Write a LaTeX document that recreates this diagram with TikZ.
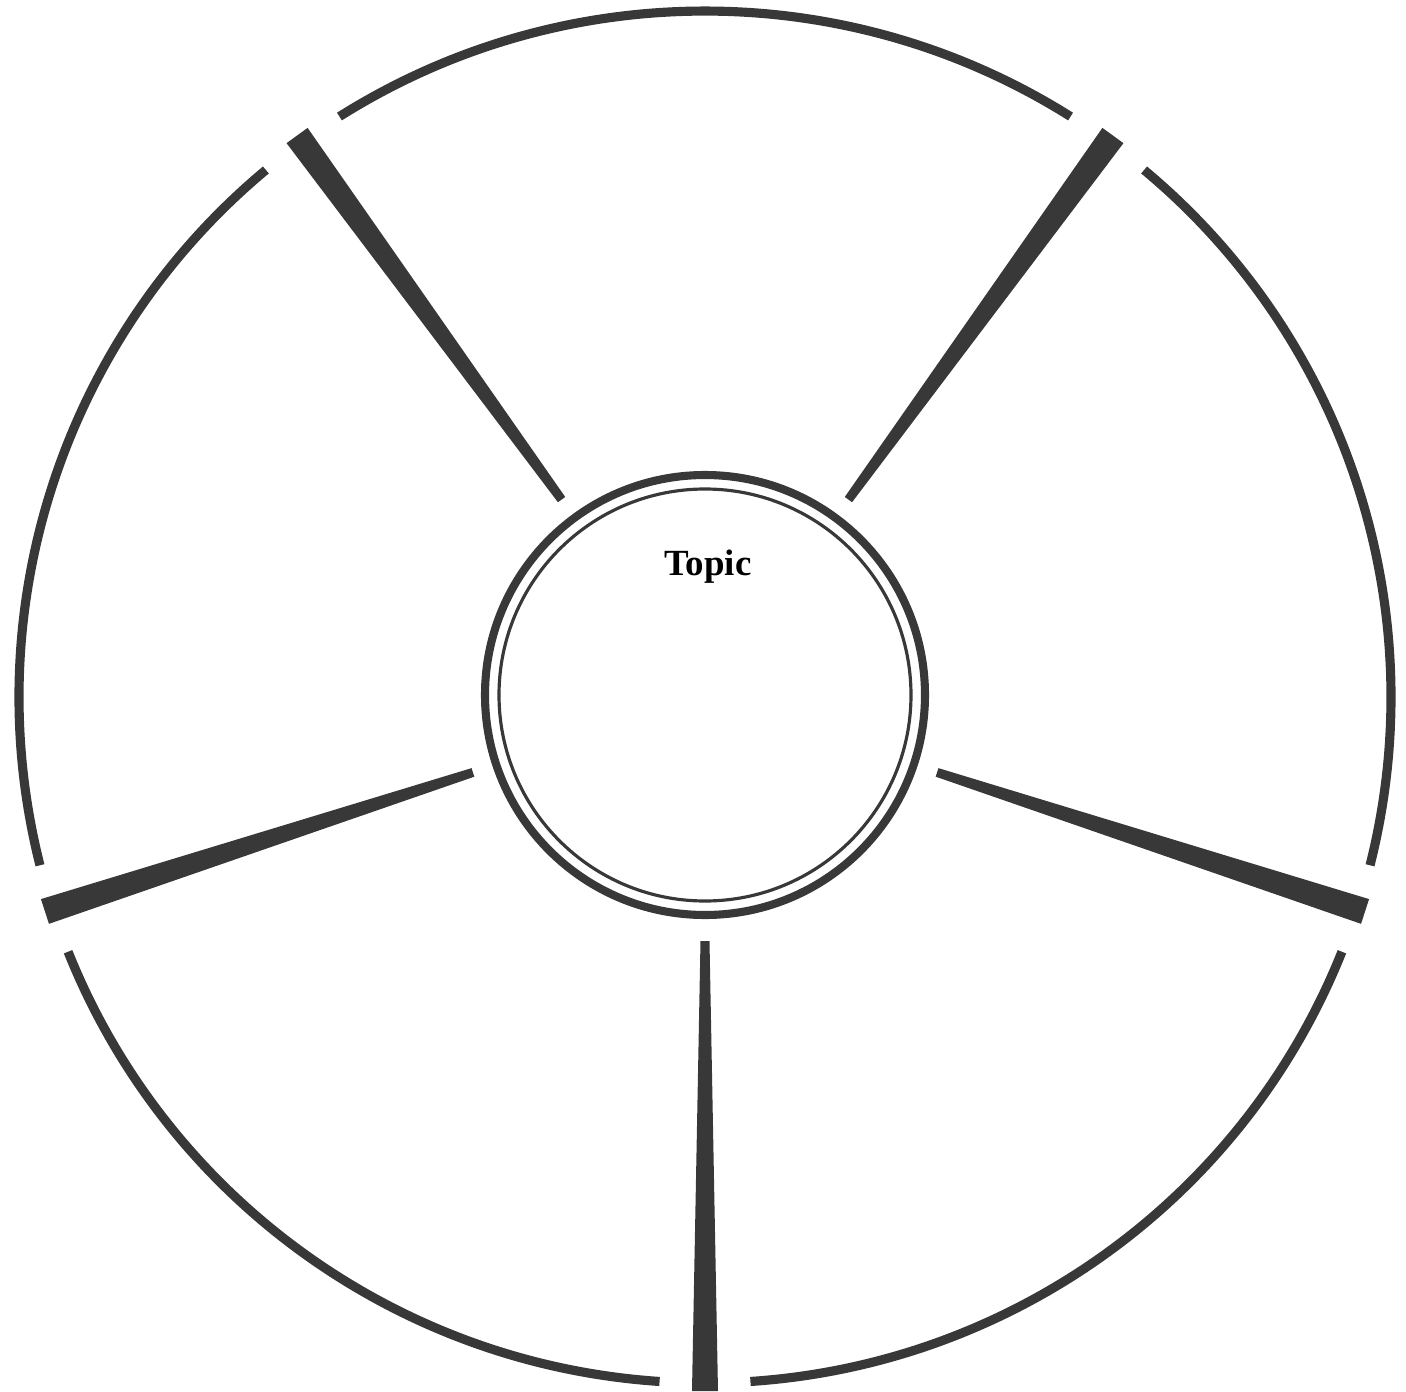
\documentclass[tikz,border=0pt]{standalone}
\usepackage{fontspec}
\newfontfamily\topicfont{Liberation Serif}
\colorlet{ink}{black!78}

\begin{document}
\begin{tikzpicture}[rim/.style={ink, line width=2.6pt},
    spoke/.style={fill=ink}]
    \useasboundingbox (-7.05,-6.94) rectangle (7.01,6.97);
    % centre rings
    \draw[ink, line width=2.3pt] (0,0.02) circle[radius=2.2];
    \draw[ink, line width=0.9pt] (0,0.02) circle[radius=2.06];
    \node (topic) at (0.03,1.3) {\topicfont\fontsize{10.5}{12}\selectfont\bfseries Topic};
    % tapered spokes and outer arcs
    \foreach \a in {54,126,198,270,342} {
        \fill[spoke, rotate=\a] (2.44,-0.045) -- (6.94,-0.13) -- (6.94,0.13) -- (2.44,0.045) -- cycle;
        \draw[rim] (\a+3.8:6.86) arc[start angle=\a+3.8, end angle=\a+68.2, radius=6.86];
    }
\end{tikzpicture}
\end{document}
